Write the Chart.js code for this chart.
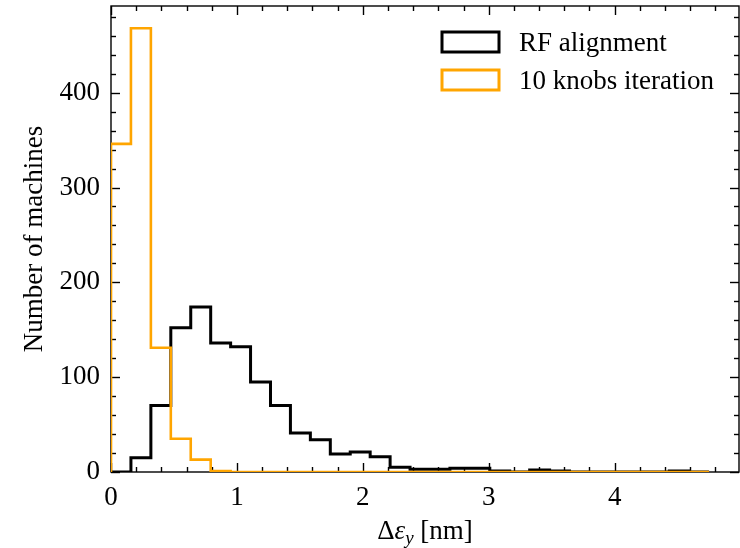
<!DOCTYPE html>
<html>
<head>
<meta charset="utf-8">
<script src="https://cdn.jsdelivr.net/npm/chart.js@4.4.1/dist/chart.umd.min.js"></script>
<style>
  html,body{margin:0;padding:0;background:#fff;}
  #wrap{width:740px;height:548px;position:relative;}
</style>
</head>
<body>
<div id="wrap"><canvas id="c" width="740" height="548"></canvas></div>
<script>
// ---- data ----
const binEdges = [0, 0.1583, 0.3167, 0.475, 0.6333, 0.7917, 0.95, 1.1083, 1.2667, 1.425,
  1.5833, 1.7417, 1.9, 2.0583, 2.2167, 2.375, 2.5333, 2.6917, 2.85, 3.0083,
  3.1667, 3.325, 3.4833, 3.6417, 3.8, 3.9583, 4.1167, 4.275, 4.4333, 4.5917, 4.75];
const rfAlignment = [0, 15, 70, 152, 174, 136, 132, 95, 70, 41,
  34, 19, 21, 16, 5, 3, 3, 4, 4, 1,
  0, 2, 1, 0, 0, 0, 0, 0, 1, 0];
const knobsIteration = [346, 468, 131, 35, 13, 1, 0, 0, 0, 0,
  0, 0, 0, 0, 0, 0, 0, 0, 0, 0,
  0, 0, 0, 0, 0, 0, 0, 0, 0, 0];
const seriesLabels = ['RF alignment', '10 knobs iteration'];
const xTickLabels = [0, 1, 2, 3, 4];
const yTickLabels = [0, 100, 200, 300, 400];
const xMax = 4.9875;
const yMax = 491.4;

const FONT = "'Liberation Serif', 'Times New Roman', serif";
const ORANGE = '#FFA500';

function stepPoints(edges, counts){
  const pts = [{x: edges[0], y: 0}];
  counts.forEach((c, i) => pts.push({x: edges[i], y: c}));
  pts.push({x: edges[edges.length - 1], y: 0});
  return pts;
}

const framePlugin = {
  id: 'frame',
  beforeDatasetsDraw(chart){
    const {ctx, chartArea: {left, right, top, bottom}, scales: {x, y}} = chart;
    ctx.save();
    ctx.strokeStyle = '#000';
    ctx.lineWidth = 1.4;
    const seg = (x1, y1, x2, y2) => { ctx.beginPath(); ctx.moveTo(x1, y1); ctx.lineTo(x2, y2); ctx.stroke(); };
    const MAJ = 9, MIN = 5;
    for (let k = 0; k * 0.2 <= xMax + 1e-9; k++) {
      const v = k * 0.2;
      const p = Math.round(x.getPixelForValue(v)) + 0.5;
      const len = (k % 5 === 0) ? MAJ : MIN;
      seg(p, bottom, p, bottom - len);
      seg(p, top, p, top + len);
    }
    for (let k = 0; k * 20 <= yMax + 1e-9; k++) {
      const v = k * 20;
      const p = Math.round(y.getPixelForValue(v)) + 0.5;
      const len = (k % 5 === 0) ? MAJ : MIN;
      seg(left, p, left + len, p);
      seg(right, p, right - len, p);
    }
    ctx.strokeRect(left, top, right - left, bottom - top);
    ctx.restore();
  },
  afterDatasetsDraw(chart){
    const {ctx, chartArea: {left, right, top, bottom}} = chart;
    ctx.save();
    // legend
    ctx.lineWidth = 3;
    ctx.lineJoin = 'miter';
    const rows = [
      {label: seriesLabels[0], color: '#000', yTop: 32},
      {label: seriesLabels[1], color: ORANGE, yTop: 70}
    ];
    ctx.font = '27px ' + FONT;
    ctx.fillStyle = '#000';
    ctx.textAlign = 'left';
    ctx.textBaseline = 'alphabetic';
    rows.forEach(r => {
      ctx.strokeStyle = r.color;
      ctx.strokeRect(442, r.yTop, 57, 20);
      ctx.fillText(r.label, 519, r.yTop + 19);
    });

    // y title
    ctx.save();
    ctx.translate(35, (top + bottom) / 2);
    ctx.rotate(-Math.PI / 2);
    ctx.textAlign = 'center';
    ctx.textBaseline = 'middle';
    ctx.font = '27px ' + FONT;
    ctx.fillText('Number of machines', 0, 0);
    ctx.restore();

    // x title: Δε_y [nm]
    const parts = [
      {t: 'Δ', f: '27px ' + FONT, dy: 0},
      {t: 'ε', f: 'italic 27px ' + FONT, dy: 0},
      {t: 'y', f: 'italic 19px ' + FONT, dy: 5},
      {t: ' [nm]', f: '27px ' + FONT, dy: 0}
    ];
    let total = 0;
    parts.forEach(p => { ctx.font = p.f; p.w = ctx.measureText(p.t).width; total += p.w; });
    let cx = (left + right) / 2 - total / 2;
    const base = 539;
    ctx.textAlign = 'left';
    ctx.textBaseline = 'alphabetic';
    parts.forEach(p => { ctx.font = p.f; ctx.fillText(p.t, cx, base + p.dy); cx += p.w; });
    ctx.restore();
  }
};

const clipArea = {left: 0, top: false, right: 0, bottom: 0};

new Chart(document.getElementById('c'), {
  type: 'line',
  data: {
    datasets: [
      {
        label: seriesLabels[0],
        data: stepPoints(binEdges, rfAlignment),
        borderColor: '#000',
        borderWidth: 3,
        stepped: 'before',
        pointRadius: 0,
        fill: false,
        borderJoinStyle: 'miter',
        borderCapStyle: 'butt',
        clip: clipArea,
        order: 2
      },
      {
        label: seriesLabels[1],
        data: stepPoints(binEdges, knobsIteration),
        borderColor: ORANGE,
        borderWidth: 2.6,
        stepped: 'before',
        pointRadius: 0,
        fill: false,
        borderJoinStyle: 'miter',
        borderCapStyle: 'butt',
        clip: clipArea,
        order: 1
      }
    ]
  },
  options: {
    responsive: false,
    animation: false,
    devicePixelRatio: 1,
    layout: {padding: {top: 6, right: 1, left: 0, bottom: 0}},
    plugins: {legend: {display: false}, tooltip: {enabled: false}},
    scales: {
      x: {
        type: 'linear',
        min: 0, max: xMax,
        grid: {display: false, drawTicks: false},
        border: {display: false},
        afterBuildTicks: s => { s.ticks = xTickLabels.map(v => ({value: v})); },
        afterFit: s => { s.height = 76; s.paddingLeft = 0; s.paddingRight = 0; },
        ticks: {color: '#000', padding: 10, maxRotation: 0, font: {family: FONT, size: 27},
          callback: v => String(v)}
      },
      y: {
        type: 'linear',
        min: 0, max: yMax,
        grid: {display: false, drawTicks: false},
        border: {display: false},
        afterBuildTicks: s => { s.ticks = yTickLabels.map(v => ({value: v})); },
        afterFit: s => { s.width = 111; s.paddingTop = 0; s.paddingBottom = 0; },
        ticks: {color: '#000', padding: 11, font: {family: FONT, size: 27},
          callback: v => String(v)}
      }
    }
  },
  plugins: [framePlugin]
});
</script>
</body>
</html>
